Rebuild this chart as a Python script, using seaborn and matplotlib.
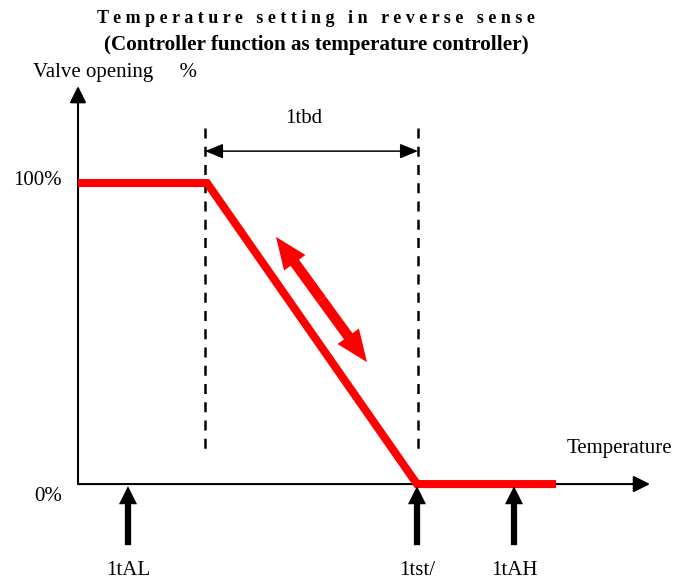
import matplotlib
matplotlib.use("Agg")
import matplotlib.pyplot as plt
import seaborn as sns
import pandas as pd

# ---- data (diagram units: temperature offset from axis origin, valve opening %) ----
curve_temp = [0, 129, 339, 478]
curve_valve = [100, 100, 0, 0]

band_temp = [127, 340]           # dashed limits of proportional band (1tbd)
band_valve = [118.3, 9.6]        # vertical extent of dashed lines
tbd_valve = 110.6                # height of 1tbd dimension arrow

marker_names = ["1tAL", "1tst/", "1tAH"]
marker_temp = [50, 339, 436]
marker_valve = [-0.7, -20.3]     # arrow tip / tail
label_valve = -28.6

axis_x_end = 572
axis_y_end = 132.2

move_temp = [198, 289]           # red double arrow
move_valve = [82.1, 40.5]

ytick_labels = ["100%", "0%"]
ytick_valve = [100.7, -4.0]

title1 = "T e m p e r a t u r e   s e t t i n g   i n   r e v e r s e   s e n s e"
title2 = "(Controller function as temperature controller)"

sns.set_theme(style="white")
plt.rcParams["font.family"] = ["Liberation Serif", "DejaVu Serif"]
plt.rcParams["text.color"] = "black"

fig = plt.figure(figsize=(6.91, 5.81), dpi=100)
fig.patch.set_facecolor("white")
ax = fig.add_axes([0, 0, 1, 1])
ax.set_xlim(-78, 613)
ax.set_ylim(-32.2, 160.8)
ax.set_axis_off()

df = pd.DataFrame({"temp": curve_temp, "valve": curve_valve})
sns.lineplot(data=df, x="temp", y="valve", ax=ax, color="#ff0000", lw=5.8,
             sort=False, estimator=None, solid_capstyle="butt", solid_joinstyle="miter",
             zorder=3)

# axes with arrows
ax.annotate("", xy=(axis_x_end, 0), xytext=(0, 0),
            arrowprops=dict(arrowstyle="-|>,head_length=10,head_width=5", mutation_scale=1,
                            lw=1.5, color="black", shrinkA=0, shrinkB=0), zorder=2)
ax.annotate("", xy=(0, axis_y_end), xytext=(0, 0),
            arrowprops=dict(arrowstyle="-|>,head_length=10,head_width=5", mutation_scale=1,
                            lw=1.5, color="black", shrinkA=0, shrinkB=0), zorder=2)

# dashed band limits
for t in band_temp:
    ax.plot([t, t], band_valve, color="black", lw=1.8, dashes=(4, 3.3), zorder=2)

# 1tbd dimension arrow
ax.annotate("", xy=(band_temp[1], tbd_valve), xytext=(band_temp[0], tbd_valve),
            arrowprops=dict(arrowstyle="<|-|>,head_length=11,head_width=4.5", mutation_scale=1,
                            lw=1.1, color="black", shrinkA=0, shrinkB=0))
ax.text(sum(band_temp) / 2 - 8, 121.6, "1tbd", ha="center", va="center", fontsize=15)

# marker arrows and labels
for name, t in zip(marker_names, marker_temp):
    ax.annotate("", xy=(t, marker_valve[0]), xytext=(t, marker_valve[1]),
                arrowprops=dict(arrowstyle="simple,head_length=13,head_width=13,tail_width=4.5",
                                mutation_scale=1, lw=0, color="black", shrinkA=0, shrinkB=0),
                zorder=4)
    ax.text(t, label_valve, name, ha="center", va="center", fontsize=15)

# red double arrow
mid = ((move_temp[0] + move_temp[1]) / 2, (move_valve[0] + move_valve[1]) / 2)
for t, v in zip(move_temp, move_valve):
    ax.annotate("", xy=(t, v), xytext=mid,
                arrowprops=dict(arrowstyle="simple,head_length=23,head_width=19,tail_width=7.5",
                                mutation_scale=1, lw=0, color="#ff0000", shrinkA=0, shrinkB=0))

# y labels
for lab, v in zip(ytick_labels, ytick_valve):
    ax.text(-16, v, lab, ha="right", va="center", fontsize=15)

ax.text(-45, 135.2, "Valve opening     %", ha="left", va="baseline", fontsize=15)
ax.text(489, 10.3, "Temperature", ha="left", va="baseline", fontsize=15)

ax.text(238, 153.2, title1, ha="center", va="baseline", fontsize=13, fontweight="bold")
ax.text(238.5, 144.2, title2, ha="center", va="baseline", fontsize=15.2, fontweight="bold")

fig.savefig("out.png", dpi=100, facecolor="white")
